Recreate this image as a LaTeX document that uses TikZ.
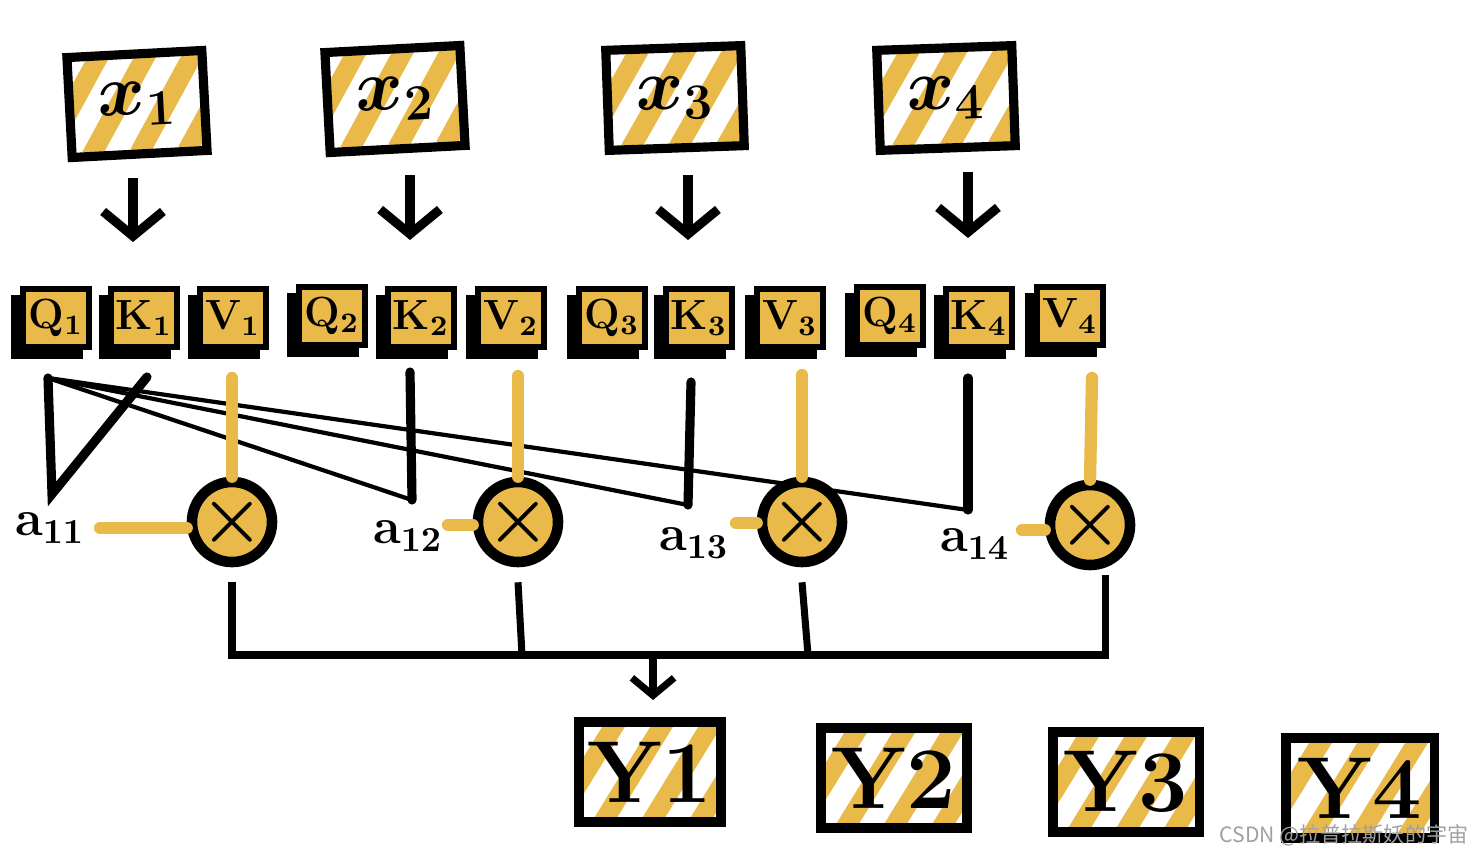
\documentclass[tikz,border=0pt]{standalone}
\usepackage{fontspec}
\usepackage{tikz}
\usetikzlibrary{arrows.meta, positioning, calc}
\newfontfamily\cjk{Noto Sans CJK SC}
\definecolor{ykey}{RGB}{233,186,74}
\definecolor{wmgray}{RGB}{160,160,160}

\begin{document}
\begin{tikzpicture}[x=0.01cm, y=-0.01cm,
    hatchbox/.style={rectangle, draw, line width=2.6pt, fill=white, minimum width=1.35cm,
                minimum height=1.0cm, font=\boldmath\bfseries\huge,
                path picture={\foreach \s in {-1.2,-0.72,...,1.6}
                  \draw[ykey, line width=5.5pt] ([xshift=\s cm]path picture bounding box.south west) -- ++(0.8cm,1.3cm);}},
    outbox/.style={hatchbox, inner sep=0pt, font=\bfseries\fontsize{25}{26}\selectfont},
    qkv/.style={rectangle, draw, line width=1.8pt, fill=ykey, minimum width=0.66cm,
                minimum height=0.58cm, inner sep=1pt, font=\boldmath\bfseries\large,
                preaction={draw, line width=1.8pt, fill=black, transform canvas={shift={(-2.5pt,-2.5pt)}}}},
    mult/.style={circle, draw, line width=3pt, fill=ykey, minimum size=0.8cm, inner sep=0pt,
                font=\bfseries\huge},
    weight/.style={font=\boldmath\bfseries\Large, inner sep=1pt},
    arrow/.style={line width=2.6pt, -{Straight Barb[length=7pt, width=17pt]}},
    dotline/.style={line width=1.2pt},
    kline/.style={line width=2.6pt, line cap=round},
    vline/.style={ykey, line width=3.5pt, line cap=round},
    sumline/.style={line width=2pt}]

\useasboundingbox (0,0) rectangle (1474,852);

% inputs
\node (x1) [hatchbox, rotate=3] at (137,104) {$x_1$};
\node (x2) [hatchbox, rotate=3] at (395,99)  {$x_2$};
\node (x3) [hatchbox, rotate=2] at (675,98)  {$x_3$};
\node (x4) [hatchbox, rotate=2] at (946,98)  {$x_4$};

% query / key / value boxes
\node (q1) [qkv] at (56,318)   {Q$_1$};
\node (k1) [qkv] at (144,318)  {K$_1$};
\node (v1) [qkv] at (233,318)  {V$_1$};
\node (q2) [qkv] at (332,316)  {Q$_2$};
\node (k2) [qkv] at (421,318)  {K$_2$};
\node (v2) [qkv] at (511,318)  {V$_2$};
\node (q3) [qkv] at (612,318)  {Q$_3$};
\node (k3) [qkv] at (699,318)  {K$_3$};
\node (v3) [qkv] at (790,318)  {V$_3$};
\node (q4) [qkv] at (890,316)  {Q$_4$};
\node (k4) [qkv] at (979,318)  {K$_4$};
\node (v4) [qkv] at (1070,316) {V$_4$};

% arrows x -> qkv
\coordinate (a1s) at (133,178); \coordinate (a1e) at (133,242);
\coordinate (a2s) at (410,175); \coordinate (a2e) at (410,240);
\coordinate (a3s) at (688,175); \coordinate (a3e) at (688,240);
\coordinate (a4s) at (968,172); \coordinate (a4e) at (968,238);
\draw [arrow] (a1s) -- (a1e);
\draw [arrow] (a2s) -- (a2e);
\draw [arrow] (a3s) -- (a3e);
\draw [arrow] (a4s) -- (a4e);

% Q1 against every key
\coordinate (qtop)  at (48,378);
\coordinate (k1bot) at (52,494);  \coordinate (k1top) at (147,377);
\coordinate (k2bot) at (412,500); \coordinate (k2top) at (410,372);
\coordinate (k3bot) at (688,505); \coordinate (k3top) at (691,382);
\coordinate (k4bot) at (968,510); \coordinate (k4top) at (968,378);
\draw [kline] (qtop) -- (k1bot) -- (k1top);
\draw [dotline] (qtop) -- (k2bot);
\draw [dotline] (qtop) -- (k3bot);
\draw [dotline] (qtop) -- (k4bot);
\draw [kline] (k2top) -- (k2bot);
\draw [kline] (k3top) -- (k3bot);
\draw [kline] (k4top) -- (k4bot);

% weights
\node (a11) [weight] at (50,528)  {a$_{11}$};
\node (a12) [weight] at (408,536) {a$_{12}$};
\node (a13) [weight] at (694,543) {a$_{13}$};
\node (a14) [weight] at (975,544) {a$_{14}$};

% multiply by values
\node (m1) [mult] at (232,522)  {×};
\node (m2) [mult] at (518,522)  {×};
\node (m3) [mult] at (802,522)  {×};
\node (m4) [mult] at (1090,525) {×};

\coordinate (v1d) at (232,378);  \coordinate (v2d) at (518,376);
\coordinate (v3d) at (802,375);  \coordinate (v4d) at (1092,378);
\draw [vline] (v1d) -- (m1.north);
\draw [vline] (v2d) -- (m2.north);
\draw [vline] (v3d) -- (m3.north);
\draw [vline] (v4d) -- (m4.north);
\coordinate (w1) at (100,528);  \coordinate (w2) at (448,525);
\coordinate (w3) at (736,523);  \coordinate (w4) at (1022,530);
\draw [vline] (w1) -- (w1 -| m1.west);
\draw [vline] (w2) -- (w2 -| m2.west);
\draw [vline] (w3) -- (w3 -| m3.west);
\draw [vline] (w4) -- (w4 -| m4.west);

% sum
\coordinate (s1) at (232,655); \coordinate (s2) at (522,655);
\coordinate (s3) at (808,655); \coordinate (s4) at (1105,655);
\coordinate (sm) at (653,655); \coordinate (se) at (653,700);
\draw [sumline] (m1.south) ++(0,15) -- (s1) -- (s4) -- ++(0,-80);
\draw [sumline] (m2.south) ++(0,15) -- (s2);
\draw [sumline] (m3.south) ++(0,15) -- (s3);
\draw [sumline, -{Straight Barb[length=5pt, width=12pt]}] (sm) -- (se);

% outputs
\node (y1) [outbox, minimum width=1.42cm] at (650,772)  {Y1};
\node (y2) [outbox, minimum width=1.46cm] at (894,778)  {Y2};
\node (y3) [outbox, minimum width=1.46cm] at (1126,782) {Y3};
\node (y4) [outbox, minimum width=1.48cm] at (1360,788) {Y4};

% watermark
\node (wm) [font=\cjk\fontsize{6}{6}\selectfont, text=wmgray, inner sep=0pt] at (1344,835) {CSDN @拉普拉斯妖的宇宙};

\end{tikzpicture}
\end{document}
